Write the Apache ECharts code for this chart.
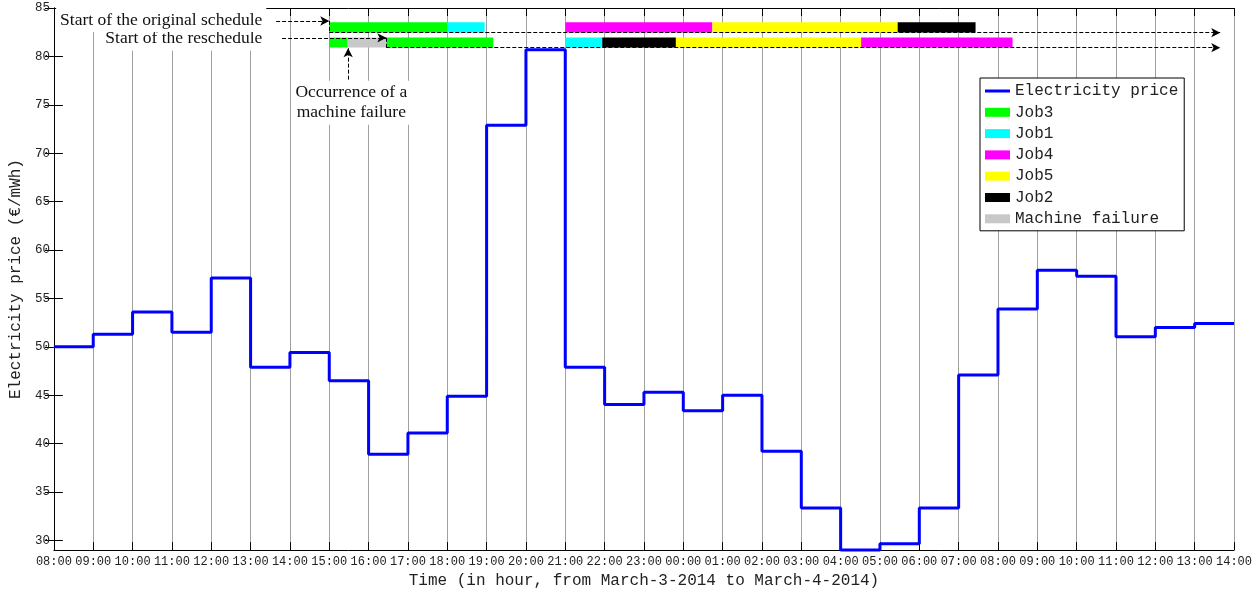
<!DOCTYPE html>
<html>
<head>
<meta charset="utf-8">
<title>Electricity price and schedule</title>
<script src="https://cdn.jsdelivr.net/npm/echarts@6/dist/echarts.min.js"></script>
<style>
  html, body { margin: 0; padding: 0; background: #fff; }
  #chart { width: 1260px; height: 594px; }
</style>
</head>
<body>
<div id="chart"></div>
<script>
// hour labels, 08:00 on March 3 to 14:00 on March 4
const hourLabels = ['08:00', '09:00', '10:00', '11:00', '12:00', '13:00', '14:00', '15:00', '16:00', '17:00',
  '18:00', '19:00', '20:00', '21:00', '22:00', '23:00', '00:00', '01:00', '02:00', '03:00', '04:00',
  '05:00', '06:00', '07:00', '08:00', '09:00', '10:00', '11:00', '12:00', '13:00', '14:00']
const yTicks = [30, 35, 40, 45, 50, 55, 60, 65, 70, 75, 80, 85]

// price for each hour (value held from that hour to the next)
const price = [50.0, 51.3, 53.6, 51.5, 57.1, 47.9, 49.4, 46.5, 38.9, 41.1,
  44.9, 72.9, 80.7, 47.9, 44.05, 45.3, 43.4, 45.0, 39.2, 33.35,
  29.0, 29.65, 33.35, 47.1, 53.9, 57.9, 57.3, 51.05, 52.0, 52.4]

// schedule rows (price-axis bounds of each bar row)
const rowOriginal = [82.46, 83.53]
const rowReschedule = [80.92, 81.94]

// [start hour, end hour, row] row 0 = original, 1 = reschedule
const job3 = [[7, 10, 0], [7, 7.47, 1], [8.45, 11.17, 1]]
const job1 = [[10, 10.95, 0], [13, 13.94, 1]]
const job4 = [[13, 16.74, 0], [20.52, 24.37, 1]]
const job5 = [[16.74, 21.45, 0], [15.81, 20.52, 1]]
const job2 = [[21.45, 23.43, 0], [13.94, 15.81, 1]]
const failure = [[7.47, 8.45, 1]]

const font = 'Liberation Mono'
const serif = 'Liberation Serif'

const priceData = price.map((v, i) => [i, v])
priceData.push([price.length, price[price.length - 1]])

const toBars = (arr) => arr.map(d => {
  const r = d[2] === 0 ? rowOriginal : rowReschedule
  return [d[0], d[1], r[0], r[1]]
})

const renderBar = (params, api) => {
  const p0 = api.coord([api.value(0), api.value(3)])
  const p1 = api.coord([api.value(1), api.value(2)])
  return {
    type: 'rect',
    shape: { x: p0[0], y: p0[1], width: p1[0] - p0[0], height: p1[1] - p0[1] },
    style: { fill: api.visual('color') }
  }
}

const barSeries = (name, color, arr) => ({
  name: name,
  type: 'custom',
  renderItem: renderBar,
  itemStyle: { color: color },
  encode: { x: [0, 1], y: [2, 3] },
  data: toBars(arr),
  z: 3
})

const dash = { type: 'dashed', color: '#000', width: 1 }
const arrowLine = (a, b) => [
  { coord: a, symbol: 'none' },
  { coord: b, symbol: 'arrow', symbolSize: [7, 9] }
]
const plainLine = (a, b) => [
  { coord: a, symbol: 'none' },
  { coord: b, symbol: 'none' }
]

const myChart = echarts.init(document.getElementById('chart'))
myChart.setOption({
  animation: false,
  grid: { left: 51, right: 26, top: 8, bottom: 42 },
  legend: {
    left: 980,
    top: 78,
    orient: 'vertical',
    backgroundColor: '#fff',
    borderColor: '#000',
    borderWidth: 1,
    padding: [5, 6, 4, 5],
    itemGap: 5.3,
    itemWidth: 25,
    itemHeight: 9,
    textStyle: { fontFamily: font, fontSize: 16, color: '#222' },
    data: [
      { name: 'Electricity price', icon: 'path://M0,0 L100,0 L100,12 L0,12 Z' },
      { name: 'Job3', icon: 'rect' },
      { name: 'Job1', icon: 'rect' },
      { name: 'Job4', icon: 'rect' },
      { name: 'Job5', icon: 'rect' },
      { name: 'Job2', icon: 'rect' },
      { name: 'Machine failure', icon: 'rect' }
    ],
    z: 10
  },
  xAxis: [
    {
      type: 'value',
      min: 0,
      max: 30,
      interval: 1,
      name: 'Time (in hour, from March-3-2014 to March-4-2014)',
      nameLocation: 'middle',
      nameGap: 21,
      nameTextStyle: { fontFamily: font, fontSize: 16, color: '#222' },
      axisLine: { lineStyle: { color: '#000', width: 1 } },
      axisTick: { inside: true, length: 8, lineStyle: { color: '#000' } },
      axisLabel: {
        fontFamily: font, fontSize: 12, color: '#222', margin: 6,
        formatter: (v) => hourLabels[v]
      },
      splitLine: { show: true, lineStyle: { color: '#a0a0a0', width: 1 } }
    },
    {
      type: 'value',
      position: 'top',
      min: 0,
      max: 30,
      interval: 1,
      axisLine: { lineStyle: { color: '#000', width: 1 } },
      axisTick: { inside: true, length: 8, lineStyle: { color: '#000' } },
      axisLabel: { show: false },
      splitLine: { show: false }
    }
  ],
  yAxis: [
    {
      type: 'value',
      min: 29,
      max: 85,
      name: 'Electricity price (€/mWh)',
      nameLocation: 'middle',
      nameGap: 20,
      nameTextStyle: { fontFamily: font, fontSize: 16, color: '#222' },
      axisLine: { show: true, lineStyle: { color: '#000', width: 1 } },
      axisTick: { inside: true, length: 9, customValues: yTicks, lineStyle: { color: '#000' } },
      axisLabel: { fontFamily: font, fontSize: 12.5, color: '#222', margin: 4, customValues: yTicks },
      splitLine: { show: false }
    },
    {
      type: 'value',
      position: 'right',
      min: 29,
      max: 85,
      axisLine: { show: true, lineStyle: { color: '#000', width: 1 } },
      axisTick: { inside: true, length: 9, customValues: yTicks, lineStyle: { color: '#000' } },
      axisLabel: { show: false, customValues: yTicks },
      splitLine: { show: false }
    }
  ],
  series: [
    {
      name: 'Electricity price',
      type: 'line',
      step: 'end',
      symbol: 'none',
      clip: false,
      data: priceData,
      lineStyle: { color: '#0000ff', width: 3 },
      itemStyle: { color: '#0000ff' },
      z: 4
    },
    barSeries('Job3', '#00ff00', job3),
    barSeries('Job1', '#00ffff', job1),
    barSeries('Job4', '#ff00ff', job4),
    barSeries('Job5', '#ffff00', job5),
    barSeries('Job2', '#000000', job2),
    barSeries('Machine failure', '#c8c8c8', failure),
    {
      // annotations: arrows and notes
      name: 'notes',
      type: 'line',
      data: [],
      z: 6,
      markLine: {
        silent: true,
        lineStyle: dash,
        label: { show: false },
        data: [
          arrowLine([5.65, 83.66], [7, 83.66]),
          plainLine([7, 83.66], [7, 82.45]),
          arrowLine([7, 82.45], [29.65, 82.45]),
          arrowLine([5.8, 81.92], [8.45, 81.92]),
          plainLine([8.45, 81.92], [8.45, 80.9]),
          arrowLine([8.45, 80.9], [29.65, 80.9]),
          arrowLine([7.48, 77.6], [7.48, 80.85])
        ]
      },
      markPoint: {
        silent: true,
        symbolSize: 0,
        label: {
          show: true,
          formatter: '{b}',
          fontFamily: serif,
          fontSize: 17.5,
          color: '#111',
          backgroundColor: '#fff'
        },
        data: [
          {
            name: 'Start of the reschedule',
            coord: [5.45, 81.9],
            label: { position: 'left', distance: 2, padding: [1, 4, 6, 6] }
          },
          {
            name: 'Start of the original schedule',
            coord: [5.45, 83.75],
            label: { position: 'left', distance: 2, padding: [4, 4, 2, 4] }
          },
          {
            name: 'Occurrence of a\nmachine failure',
            coord: [7.56, 75.2],
            label: { position: 'inside', lineHeight: 20, padding: [2, 2] }
          }
        ]
      }
    }
  ]
})
</script>
</body>
</html>
